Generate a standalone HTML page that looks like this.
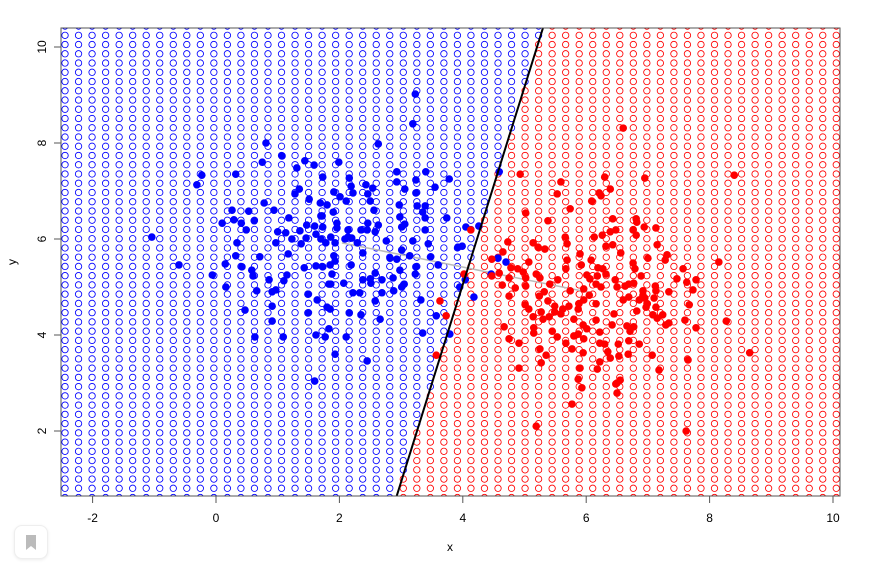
<!DOCTYPE html>
<html><head><meta charset="utf-8"><style>
html,body{margin:0;padding:0;background:#fff;width:875px;height:564px;overflow:hidden;font-family:"Liberation Sans",sans-serif}
#bm{position:absolute;left:14px;top:525px;width:32px;height:32px;border:1px solid #eee;border-radius:8px;box-shadow:0 1px 3px rgba(0,0,0,0.08);background:#fff}
</style></head><body>
<svg id="chart" width="875" height="564" style="position:absolute;left:0;top:0" xmlns="http://www.w3.org/2000/svg"></svg>
<div id="bm"><svg width="32" height="32"><path d="M11 9h10v15l-5-4-5 4z" fill="#bbb"/></svg></div>
<script>
// x tick labels and y tick labels
const xTicks = [-2, 0, 2, 4, 6, 8, 10];
const yTicks = [2, 4, 6, 8, 10];
// decision boundary (two points in data units)
const boundaryX = [2.93, 5.30];
const boundaryY = [0.65, 10.4];
// gray segment
const segX = [2.04, 6.08];
const segY = [5.92, 4.88];
// class 1 (blue) observations
const blueX = [0.81,0.75,1.07,1.44,1.59,1.31,1.73,-0.23,0.32,-0.31,1.35,1.28,1.51,0.78,1.69,1.80,0.26,0.53,0.94,1.70,1.18,0.29,0.10,0.41,0.62,1.47,1.60,1.73,0.49,1.00,1.13,1.36,1.62,-1.04,1.23,1.46,1.70,0.97,1.38,1.78,0.34,1.17,0.32,0.71,-0.60,0.15,0.42,1.43,1.62,1.73,0.58,-0.06,0.60,1.15,0.86,1.10,1.83,0.16,0.66,0.97,0.91,1.49,1.64,0.91,0.47,1.80,1.49,0.91,1.83,0.63,1.09,1.62,1.77,1.60,
3.23,3.19,2.63,1.99,2.93,3.40,2.16,3.78,2.93,3.24,2.19,2.43,2.54,3.06,3.55,1.91,2.22,2.46,3.24,2.01,2.11,2.50,2.97,3.26,3.39,2.56,1.90,3.35,1.72,2.98,3.39,3.74,1.96,2.46,2.63,3.06,2.14,2.35,2.45,3.01,3.39,4.05,4.26,1.96,1.86,2.14,2.09,2.20,2.58,1.93,2.29,2.76,3.19,3.44,3.92,3.99,2.38,2.82,2.93,3.01,3.14,3.48,1.91,1.93,1.85,2.19,2.98,3.24,3.60,1.88,3.23,2.58,2.38,2.50,2.69,2.87,2.07,2.51,1.86,3.05,3.01,4.04,3.95,2.22,2.33,2.69,2.88,2.58,3.32,4.18,1.85,2.16,2.35,2.66,3.57,2.11,3.35,3.79,1.93,2.45,4.59,4.57,4.70,4.46];
const blueY = [8.00,7.60,7.73,7.63,7.54,7.48,7.29,7.33,7.35,7.13,7.04,6.94,6.83,6.75,6.75,6.71,6.60,6.58,6.60,6.48,6.44,6.40,6.33,6.33,6.38,6.29,6.27,6.25,6.19,6.15,6.13,6.17,6.10,6.04,6.00,6.02,6.00,5.92,5.90,5.92,5.92,5.69,5.65,5.63,5.46,5.48,5.42,5.40,5.44,5.42,5.35,5.25,5.23,5.25,5.15,5.13,5.06,5.00,4.92,4.94,4.90,4.85,4.73,4.60,4.52,4.58,4.46,4.29,4.13,3.96,3.96,4.00,3.96,3.04,
9.02,8.40,7.98,7.60,7.40,7.40,7.27,7.25,7.19,7.23,7.10,7.13,7.06,7.04,7.08,6.98,6.96,6.94,6.96,6.88,6.79,6.79,6.71,6.69,6.69,6.60,6.56,6.56,6.48,6.46,6.44,6.44,6.33,6.33,6.29,6.31,6.19,6.19,6.19,6.25,6.19,6.25,6.27,6.23,6.04,6.04,6.00,6.02,6.15,5.92,5.92,5.96,5.96,5.90,5.83,5.85,5.71,5.60,5.58,5.77,5.65,5.63,5.65,5.54,5.46,5.46,5.35,5.42,5.46,5.27,5.27,5.29,5.15,5.17,5.15,5.19,5.08,5.08,5.06,5.06,5.00,5.15,5.00,4.88,4.88,4.88,4.92,4.71,4.73,4.79,4.54,4.46,4.42,4.33,4.40,3.96,4.04,4.02,3.60,3.46,7.40,5.60,5.52,5.27];
// class 2 (red) observations
const redX = [4.13,4.47,4.47,4.02,3.63,3.73,3.57,4.59,4.93,5.59,5.53,6.30,6.21,6.24,6.09,5.74,5.02,5.38,6.43,6.48,6.39,6.26,6.13,5.66,4.73,5.14,5.69,5.22,5.33,6.32,6.43,4.65,5.90,5.07,5.69,6.08,4.78,4.89,4.98,5.19,5.67,5.92,6.19,6.27,6.32,6.01,6.06,6.18,4.75,5.02,5.25,5.54,6.16,6.24,6.47,6.50,4.64,4.85,5.02,5.41,5.74,5.96,4.75,5.24,5.32,6.05,5.38,5.01,5.07,5.49,5.62,5.72,5.88,5.96,6.16,5.27,5.49,5.59,5.87,5.14,5.30,5.40,5.80,6.45,4.67,5.15,5.95,6.16,6.42,5.15,5.45,6.01,5.87,5.80,6.22,4.75,4.91,5.53,5.67,5.96,6.22,6.30,6.52,5.25,5.77,5.95,6.35,5.35,6.39,6.22,5.27,4.91,5.90,6.18,5.87,5.93,6.50,6.50,5.77,5.19,
6.60,6.95,8.40,6.39,6.81,6.82,6.94,7.13,6.76,6.81,7.15,6.56,7.00,7.31,7.28,6.76,6.79,8.15,7.57,6.89,7.47,7.63,7.78,6.63,6.69,6.77,7.12,7.13,6.92,6.92,7.34,7.73,6.60,6.69,6.86,6.95,7.10,7.67,6.99,7.13,6.97,6.82,7.08,7.15,7.24,7.34,7.29,7.60,8.27,6.66,6.71,6.77,7.78,6.69,6.86,6.68,7.07,6.53,8.65,7.65,7.18,6.55,6.48,7.62];
const redY = [6.19,5.58,5.23,5.27,4.71,4.40,3.58,5.29,7.35,7.19,6.94,7.29,6.96,6.90,6.79,6.63,6.54,6.38,6.42,6.19,6.15,6.08,6.04,6.04,5.94,5.92,5.90,5.83,5.79,5.85,5.88,5.73,5.69,5.52,5.56,5.56,5.40,5.38,5.31,5.27,5.38,5.46,5.40,5.38,5.27,5.25,5.17,5.23,5.19,5.19,5.19,5.15,5.06,5.00,5.15,5.00,5.04,4.98,5.02,5.06,4.92,4.96,4.81,4.81,4.90,4.83,4.71,4.63,4.54,4.60,4.54,4.60,4.65,4.73,4.65,4.48,4.48,4.44,4.54,4.38,4.33,4.38,4.33,4.44,4.17,4.15,4.21,4.31,4.21,4.04,4.08,4.13,4.02,3.98,4.06,3.92,3.83,3.96,3.83,3.92,3.83,3.81,3.81,3.71,3.71,3.63,3.65,3.58,3.52,3.44,3.42,3.31,3.31,3.29,3.08,2.90,3.00,2.79,2.56,2.10,
8.31,7.27,7.33,7.04,6.42,6.35,6.25,6.23,6.19,6.08,5.88,5.71,5.60,5.67,5.56,5.50,5.38,5.52,5.38,5.23,5.17,5.10,5.15,5.02,5.06,5.08,5.02,4.92,4.92,4.83,4.90,4.94,4.73,4.79,4.73,4.77,4.77,4.63,4.65,4.58,4.58,4.50,4.42,4.35,4.42,4.25,4.21,4.31,4.29,4.19,4.08,4.17,4.15,3.88,3.81,3.60,3.58,3.56,3.63,3.48,3.27,3.06,2.98,2.00];

const NS='http://www.w3.org/2000/svg';
const svg=document.getElementById('chart');
const L=61,R=840,T=28,B=496;
const sx=v=>216+61.7*v;
const sy=v=>527-48*v;
function mk(tag,attrs,parent){const e=document.createElementNS(NS,tag);for(const k in attrs)e.setAttribute(k,attrs[k]);(parent||svg).appendChild(e);return e;}
const defs=mk('defs',{});
const cp=mk('clipPath',{id:'pc'},defs);
mk('rect',{x:L,y:T,width:R-L,height:B-T},cp);
const plot=mk('g',{'clip-path':'url(#pc)'});


const slope=(boundaryX[1]-boundaryX[0])/(boundaryY[1]-boundaryY[0]);
const bx=y=>boundaryX[0]+(y-boundaryY[0])*slope;
const gGrid=mk('g',{},plot);


for(let i=0;i<58;i++){const gx=-2.447+0.2193*i;
 for(let j=-1;j<52;j++){const gy=0.806+0.1926*j;
  const c=mk('circle',{cx:sx(gx),cy:sy(gy),r:3.2,fill:'none','stroke-width':0.85,stroke:gx>bx(gy)?'#ff0000':'#0000ff'},gGrid);
  
  
 }}
const seg=mk('line',{x1:sx(segX[0]),y1:sy(segY[0]),x2:sx(segX[1]),y2:sy(segY[1]),stroke:'#bbbbbb','stroke-width':1.5},plot);


function pts(X,Y,col,name){const g=mk('g',{},plot);
 
 
 for(let i=0;i<X.length;i++){const c=mk('circle',{cx:sx(X[i]),cy:sy(Y[i]),r:3.8,fill:col},g);
  
  }}
pts(blueX,blueY,'#0000ff','blue');
pts(redX,redY,'#ff0000','red');
const bl=mk('line',{x1:sx(bx(0)),y1:sy(0),x2:sx(bx(11)),y2:sy(11),stroke:'#000','stroke-width':2},plot);


const fr=mk('rect',{x:L,y:T,width:R-L,height:B-T,fill:'none',stroke:'#555','stroke-width':1});


xTicks.forEach(t=>{const x=sx(t);
 const tk=mk('line',{x1:x,y1:B,x2:x,y2:B+7,stroke:'#555'});
 
 
 const tl=mk('text',{x:x,y:522,'text-anchor':'middle','font-size':12,fill:'#000'});tl.textContent=t;
 
 });
yTicks.forEach(t=>{const y=sy(t);
 const tk=mk('line',{x1:L,y1:y,x2:L-7,y2:y,stroke:'#555'});
 
 
 const tl=mk('text',{x:0,y:0,'text-anchor':'middle','font-size':12,fill:'#000',transform:`translate(46,${y}) rotate(-90)`});tl.textContent=t;
 
 });
const xt=mk('text',{x:450,y:551,'text-anchor':'middle','font-size':12});xt.textContent='x';


const yt=mk('text',{x:0,y:0,'text-anchor':'middle','font-size':12,transform:'translate(16,262) rotate(-90)'});yt.textContent='y';


</script>
</body></html>
